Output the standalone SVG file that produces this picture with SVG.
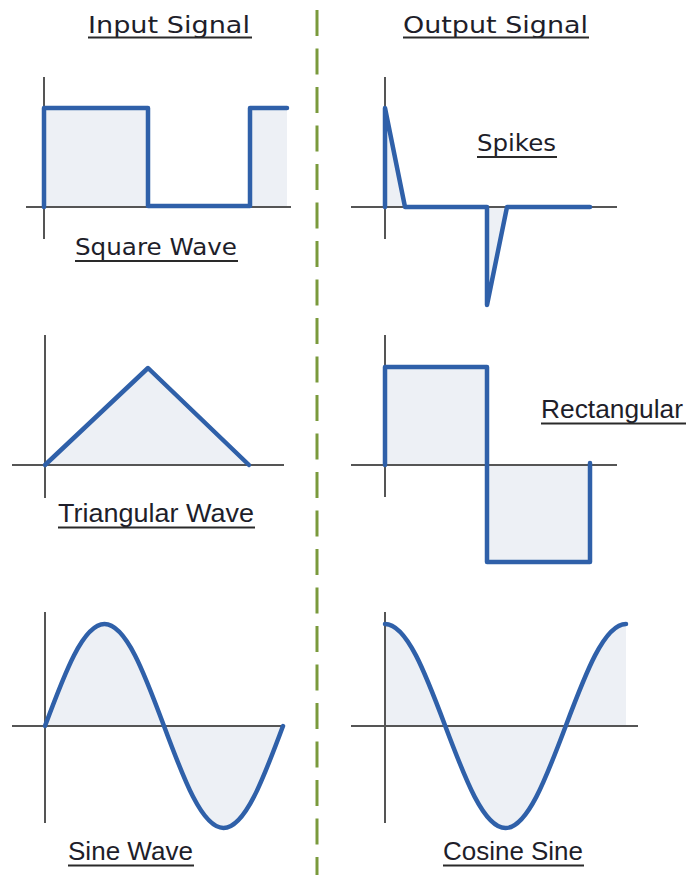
<svg xmlns="http://www.w3.org/2000/svg" width="686" height="875" viewBox="0 0 686 875">
<style>
.axis{stroke:#555;stroke-width:2;fill:none}
.fill{fill:#edf0f5;stroke:none}
.wave{stroke:#2f60a9;stroke-width:4.5;fill:none;stroke-linejoin:round;stroke-linecap:round}
.v{font-family:"DejaVu Sans","Liberation Sans",sans-serif;font-size:23px;fill:#1e1e2a}
.a{font-family:"Liberation Sans",Arial,sans-serif;font-size:26px;fill:#1e1e2a}
.ul{stroke:#2a2a2a;stroke-width:2}
.div{stroke:#7a9a3c;stroke-width:3;stroke-dasharray:26 12.5}
</style>
<rect width="686" height="875" fill="#fff"/>
<line class="div" x1="317" y1="10" x2="317" y2="875"/>
<g id="title-input">
<text class="v" x="88" y="33" textLength="162" lengthAdjust="spacingAndGlyphs">Input Signal</text>
<line class="ul" x1="88" y1="37.5" x2="252" y2="37.5"/>
</g>
<g id="title-output">
<text class="v" x="403" y="33" textLength="185" lengthAdjust="spacingAndGlyphs">Output Signal</text>
<line class="ul" x1="403" y1="37.5" x2="589" y2="37.5"/>
</g>
<g id="square-wave">
<rect class="fill" x="44" y="108" width="104" height="99"/>
<rect class="fill" x="250" y="108" width="37" height="99"/>
<line class="axis" x1="44" y1="77" x2="44" y2="239"/>
<line class="axis" x1="26" y1="207" x2="291" y2="207"/>
<path class="wave" d="M44,207 L44,108 L148,108 L148,206 L250,206 L250,108 L287,108"/>
<text class="v" x="75" y="255" font-size="24" textLength="162" lengthAdjust="spacingAndGlyphs">Square Wave</text>
<line class="ul" x1="75" y1="261" x2="238" y2="261"/>
</g>
<g id="spikes">
<path class="fill" d="M385,207 L385,108 L405,207 Z M487,207 L487,305 L507,207 Z"/>
<line class="axis" x1="385" y1="77" x2="385" y2="239"/>
<line class="axis" x1="351" y1="207" x2="617" y2="207"/>
<path class="wave" d="M385,207 L385,108 L405,207 L487,207 L487,305 L507,207 L590,207"/>
<text class="v" x="477" y="151" font-size="24" textLength="79" lengthAdjust="spacingAndGlyphs">Spikes</text>
<line class="ul" x1="477" y1="157" x2="557" y2="157"/>
</g>
<g id="triangular-wave">
<path class="fill" d="M45,465 L148,368 L250,465 Z"/>
<line class="axis" x1="45" y1="335" x2="45" y2="498"/>
<line class="axis" x1="12" y1="465" x2="284" y2="465"/>
<path class="wave" d="M45,465 L148,368 L249,465"/>
<text class="a" x="58" y="522" textLength="196" lengthAdjust="spacingAndGlyphs">Triangular Wave</text>
<line class="ul" x1="58" y1="527.5" x2="255" y2="527.5"/>
</g>
<g id="rectangular">
<rect class="fill" x="385" y="367" width="102" height="98"/>
<rect class="fill" x="487" y="465" width="103" height="97"/>
<line class="axis" x1="385" y1="335" x2="385" y2="497"/>
<line class="axis" x1="351" y1="465" x2="617" y2="465"/>
<path class="wave" d="M385,465 L385,367 L487,367 L487,562 L590,562 L590,463"/>
<text class="a" x="541" y="418" textLength="142" lengthAdjust="spacingAndGlyphs">Rectangular</text>
<line class="ul" x1="541" y1="423.5" x2="686" y2="423.5"/>
</g>
<g id="sine-wave">
<path class="fill" d="M45,726 C64.41,673.75 82.97,624 104.5,624 C126.03,624 144.59,673.75 164,726 C183.41,778.25 201.97,828 223.5,828 C245.03,828 263.59,778.25 283,726 Z"/>
<line class="axis" x1="45" y1="612" x2="45" y2="823"/>
<line class="axis" x1="12" y1="726" x2="283" y2="726"/>
<path class="wave" d="M45,726 C64.41,673.75 82.97,624 104.5,624 C126.03,624 144.59,673.75 164,726 C183.41,778.25 201.97,828 223.5,828 C245.03,828 263.59,778.25 283,726"/>
<text class="a" x="68" y="860" textLength="125" lengthAdjust="spacingAndGlyphs">Sine Wave</text>
<line class="ul" x1="68" y1="865.5" x2="194" y2="865.5"/>
</g>
<g id="cosine-sine">
<path class="fill" d="M385,624 C406.8,624 425.6,673.75 445.25,726 C464.9,778.25 483.7,828 505.5,828 C527.3,828 546.1,778.25 565.75,726 C585.4,673.75 604.2,624 626,624 L626,726 L385,726 Z"/>
<line class="axis" x1="385" y1="612" x2="385" y2="823"/>
<line class="axis" x1="351" y1="726" x2="638" y2="726"/>
<path class="wave" d="M385,624 C406.8,624 425.6,673.75 445.25,726 C464.9,778.25 483.7,828 505.5,828 C527.3,828 546.1,778.25 565.75,726 C585.4,673.75 604.2,624 626,624"/>
<text class="a" x="443" y="860" textLength="140" lengthAdjust="spacingAndGlyphs">Cosine Sine</text>
<line class="ul" x1="443" y1="865.5" x2="584" y2="865.5"/>
</g>
</svg>
